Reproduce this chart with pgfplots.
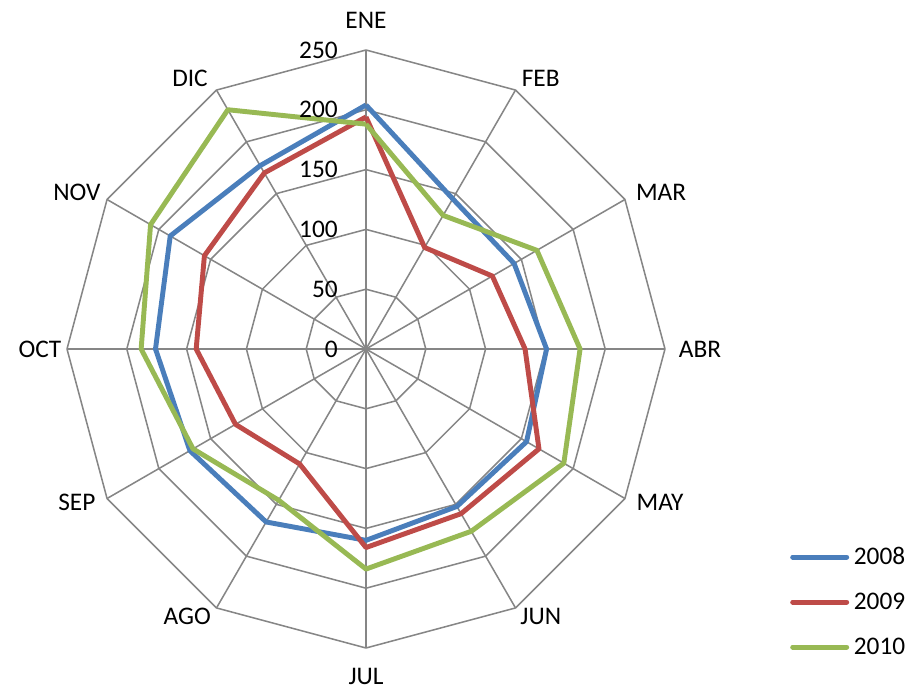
\documentclass[border=0pt]{standalone}
\usepackage{fontspec}
\setmainfont{Carlito}
\usepackage{pgfplots}
\pgfplotsset{compat=1.18}
\usepgfplotslibrary{polar}
\definecolor{gridc}{HTML}{868686}
\definecolor{c2008}{HTML}{4A7EBB}
\definecolor{c2009}{HTML}{BE4B48}
\definecolor{c2010}{HTML}{98B954}

\begin{document}
\begin{tikzpicture}
\begin{polaraxis}[
    scale only axis,
    width=448.5pt, height=448.5pt,
    xmin=0, xmax=360,
    ymin=0, ymax=250,
    xtick=\empty, ytick=\empty,
    axis line style={draw=none},
    clip=false,
    font=\fontsize{19}{22}\selectfont,
    legend style={draw=none, fill=none, at={(1.209,0.167)}, anchor=north west,
        inner sep=0pt, row sep=21.75pt,
        nodes={inner sep=0pt, text height=12pt, text depth=0pt},
        font=\fontsize{19}{22}\selectfont},
    legend cell align=left,
    legend image code/.code={
        \draw[#1, line cap=round] (0pt,-0.5pt) -- (40.5pt,-0.5pt);
        \path (44pt,-0.5pt);
    },
    every axis plot/.append style={line join=round},
]
    % grid rings
    \pgfplotsinvokeforeach{50,100,150,200,250}{
        \addplot[gridc, line width=1.15pt, mark=none, forget plot] coordinates {
            (90,#1) (60,#1) (30,#1) (0,#1) (330,#1) (300,#1) (270,#1)
            (240,#1) (210,#1) (180,#1) (150,#1) (120,#1) (90,#1)
        };
    }
    % spokes
    \pgfplotsinvokeforeach{0,30,...,330}{
        \addplot[gridc, line width=1.15pt, mark=none, forget plot] coordinates {(#1,0) (#1,250)};
    }

    % 2008
    \addplot[c2008, line width=3.7pt, mark=none] coordinates {
        (90,204) (60,145) (30,143) (0,151) (330,155) (300,152) (270,160)
        (240,167) (210,170) (180,176) (150,189) (120,177) (90,204)
    };
    % 2009
    \addplot[c2009, line width=3.7pt, mark=none] coordinates {
        (90,194) (60,98) (30,122) (0,133) (330,167) (300,159) (270,166)
        (240,111) (210,126) (180,142) (150,156) (120,170) (90,194)
    };
    % 2010
    \addplot[c2010, line width=3.7pt, mark=none] coordinates {
        (90,188) (60,129) (30,165) (0,179) (330,191) (300,176) (270,184)
        (240,146) (210,167) (180,188) (150,208) (120,231) (90,188)
    };
    \legend{2008, 2009, 2010}

    % value labels
    \foreach \v in {0,50,100,150,200,250} {
        \edef\tmp{\noexpand\node[anchor=east, xshift=-21pt, inner sep=0pt] at (axis cs:90,\v) {\v};}
        \tmp
    }

    % month labels
    \node at (axis cs:90,275) {ENE};
    \node at (axis cs:57.2,269.7) {FEB};
    \node at (axis cs:28,279.4) {MAR};
    \node at (axis cs:0,279.3) {ABR};
    \node at (axis cs:332.4,277.5) {MAY};
    \node at (axis cs:303.2,266.9) {JUN};
    \node at (axis cs:270,274.2) {JUL};
    \node at (axis cs:236.2,268.8) {AGO};
    \node at (axis cs:208,273.8) {SEP};
    \node at (axis cs:180,272.6) {OCT};
    \node at (axis cs:151.5,275) {NOV};
    \node at (axis cs:123,270.2) {DIC};

    \coordinate (c) at (axis cs:0,0);
\end{polaraxis}
\path[use as bounding box] ([shift={(-274.5pt,-255pt)}]c) rectangle ([shift={(405.75pt,261.75pt)}]c);
\end{tikzpicture}
\end{document}
